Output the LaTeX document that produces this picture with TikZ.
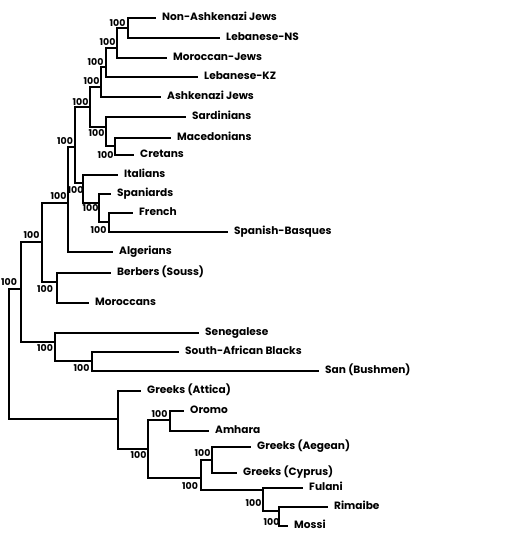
\documentclass[tikz,border=0pt]{standalone}
\usepackage{fontspec}
\setmainfont{Poppins}
\usepackage{tikz}
\usetikzlibrary{positioning}
\newcommand{\Leaf}{\fontsize{10.6}{12}\selectfont\bfseries}
\newcommand{\Boot}{\fontsize{9.4}{10}\selectfont\bfseries}

\begin{document}
\begin{tikzpicture}[x=1pt,y=-1pt,
    leaf/.style={anchor=west, inner xsep=7pt, inner ysep=0pt, text height=7pt, text depth=2pt, font=\Leaf},
    boot/.style={inner sep=0pt, font=\Boot},
    branch/.style={line width=1.2pt, line cap=rect}]
  \useasboundingbox (0,0) rectangle (512,533);
  % taxa
  \foreach \nm/\x/\y/\txt in {naj/155/18/Non-Ashkenazi Jews, lns/219/38/Lebanese-NS,
      moj/166/58/Moroccan-Jews, lkz/197/77/Lebanese-KZ, asj/160/97/Ashkenazi Jews,
      sar/185/117/Sardinians, mac/170/138/Macedonians, cre/133/155/Cretans,
      ita/117/175/Italians, spa/110/194/Spaniards, fre/132/213/French,
      bas/227/232/Spanish-Basques, alg/112/252/Algerians, ber/110/273/Berbers (Souss),
      mor/88/303/Moroccans, sen/198/333/Senegalese, sab/178/352/South-African Blacks,
      san/318/371/San (Bushmen), gat/140/391/Greeks (Attica), oro/183/411/Oromo,
      amh/208/431/Amhara, gae/250/447/Greeks (Aegean), gcy/236/473/Greeks (Cyprus),
      ful/302/488/Fulani, rim/327/507/Rimaibe, mos/287/526/Mossi}{
    \node[leaf] (\nm) at (\x,\y) {\txt};
  }
  % internal nodes
  \foreach \nm/\x/\y in {nA/128/28, nB/117/48, nC/106/67, nD/101/87, nE/90/107,
      nF/106/127, nG/115/146, nH/75/147, nI/83/183, nJ/99/203, nL/109/222,
      nK/68/203, nM/42/242, nN/57/282, nU/21/289, nS/55/342, nT/92/361,
      nV/118/419, nW/148/449, nX/170/420, nY/201/478, nZ/212/460, nQ/263/490,
      nP/279/511, root/9/354}{
    \coordinate (\nm) at (\x,\y);
  }
  % bootstrap values
  \foreach \nm/\x/\y in {A/117.5/23, B/107.5/42, C/95.5/62, D/91.5/81, E/80.5/102,
      F/96.5/133, G/105.5/155, H/65/141, I/75.5/190, J/90.5/208, L/98.5/230,
      K/58.5/196, M/31.5/235, N/45/289, U/9/282, S/45/348, T/81.5/368,
      W/138.5/455, X/159.5/414, Y/190/486, Z/202.5/453, Q/253.5/503, P/271.5/522}{
    \node[boot] (b\nm) at (\x,\y) {100};
  }
  % branches
  \foreach \c/\p in {naj.west/nA, lns.west/nA, nA/nB, moj.west/nB, nB/nC, lkz.west/nC,
      nC/nD, asj.west/nD, nD/nE, nF/nE, sar.west/nF, nG/nF, mac.west/nG, cre.west/nG,
      nE/nH, nI/nH, ita.west/nI, nJ/nI, spa.west/nJ, nL/nJ, fre.west/nL, bas.west/nL,
      nH/nK, alg.west/nK, nK/nM, nN/nM, ber.west/nN, mor.west/nN, nM/nU, nS/nU,
      sen.west/nS, nT/nS, sab.west/nT, san.west/nT, nU/root, nV/root,
      gat.west/nV, nW/nV, nX/nW, nY/nW, oro.west/nX, amh.west/nX, nZ/nY, nQ/nY,
      gae.west/nZ, gcy.west/nZ, ful.west/nQ, nP/nQ, rim.west/nP, mos.west/nP}{
    \draw[branch] (\c) -| (\p);
  }
\end{tikzpicture}
\end{document}
